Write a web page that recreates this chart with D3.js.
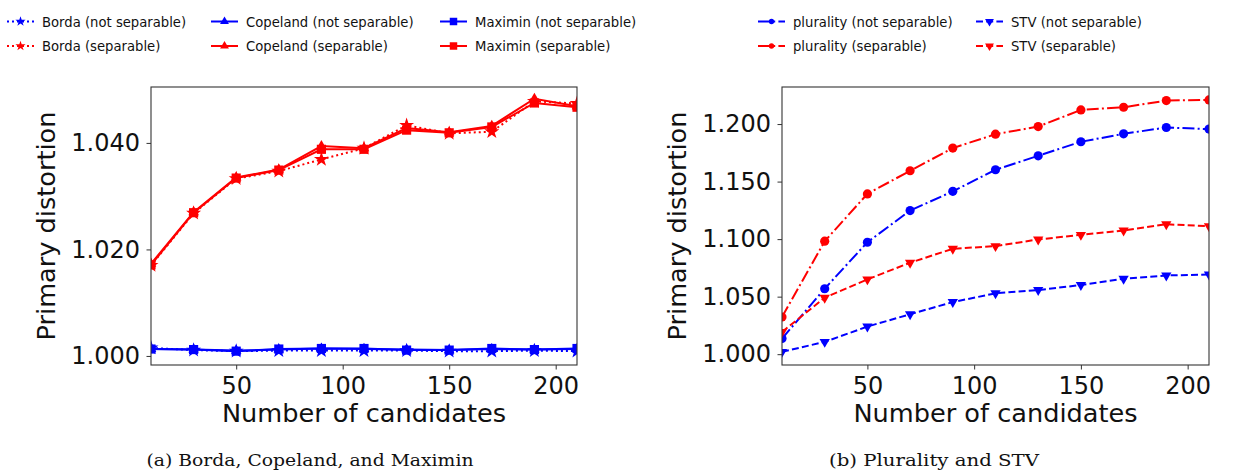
<!DOCTYPE html>
<html>
<head>
<meta charset="utf-8">
<script src="https://cdn.jsdelivr.net/npm/d3@7"></script>
<style>
    body { margin: 0; background: #fff; }
    text { font-family: "DejaVu Sans", sans-serif; fill: #111; }
    .caption { font-family: "DejaVu Serif", serif; }
</style>
</head>
<body>
<script>
//==============================================================================//
//  DATA
//==============================================================================//

    // number of candidates on the x axis
    var candidates = [10, 30, 50, 70, 90, 110, 130, 150, 170, 190, 210];

    // panel (a): Borda, Copeland, Maximin
    var bordaNotSep    = [1.0015, 1.0011, 1.0009, 1.0010, 1.0010, 1.0010, 1.0010, 1.0009, 1.0009, 1.0010, 1.0009];
    var bordaSep       = [1.0170, 1.0268, 1.0333, 1.0347, 1.0369, 1.0390, 1.0433, 1.0418, 1.0421, 1.0478, 1.0474];
    var copelandNotSep = [1.0013, 1.0012, 1.0010, 1.0012, 1.0014, 1.0013, 1.0012, 1.0011, 1.0013, 1.0012, 1.0013];
    var copelandSep    = [1.0173, 1.0270, 1.0335, 1.0350, 1.0394, 1.0390, 1.0428, 1.0420, 1.0432, 1.0483, 1.0469];
    var maximinNotSep  = [1.0013, 1.0012, 1.0009, 1.0013, 1.0014, 1.0014, 1.0011, 1.0011, 1.0014, 1.0012, 1.0014];
    var maximinSep     = [1.0171, 1.0269, 1.0334, 1.0349, 1.0388, 1.0388, 1.0424, 1.0419, 1.0430, 1.0475, 1.0467];

    // panel (b): plurality, STV
    var pluralityNotSep = [1.0136, 1.0569, 1.0973, 1.1248, 1.1415, 1.1603, 1.1724, 1.1846, 1.1915, 1.1970, 1.1956];
    var pluralitySep    = [1.0323, 1.0982, 1.1393, 1.1594, 1.1791, 1.1912, 1.1978, 1.2123, 1.2146, 1.2204, 1.2210];
    var stvNotSep       = [1.0020, 1.0107, 1.0240, 1.0347, 1.0453, 1.0529, 1.0557, 1.0601, 1.0656, 1.0684, 1.0693];
    var stvSep          = [1.0193, 1.0491, 1.0650, 1.0795, 1.0916, 1.0939, 1.0997, 1.1037, 1.1075, 1.1129, 1.1112];

    // tick labels
    var xTicks = [50, 100, 150, 200];
    var yTicksA = [1.000, 1.020, 1.040];
    var yTicksB = [1.000, 1.050, 1.100, 1.150, 1.200];

    // axis ranges
    var xDomain = [10, 210];
    var yDomainA = [0.9983, 1.0505];
    var yDomainB = [0.9906, 1.2322];

//==============================================================================//
//  STYLES
//==============================================================================//

    var dotted = "2,3", dashed = "7,3.2", dashdot = "12,3.2,2,3.2";

    // one entry per rule, legend order (column major)
    var rules = [
        {label: "Borda (not separable)",     values: bordaNotSep,     color: "#0000ff", dash: dotted,  marker: "star"},
        {label: "Borda (separable)",         values: bordaSep,        color: "#ff0000", dash: dotted,  marker: "star"},
        {label: "Copeland (not separable)",  values: copelandNotSep,  color: "#0000ff", dash: null,    marker: "tri"},
        {label: "Copeland (separable)",      values: copelandSep,     color: "#ff0000", dash: null,    marker: "tri"},
        {label: "Maximin (not separable)",   values: maximinNotSep,   color: "#0000ff", dash: null,    marker: "square"},
        {label: "Maximin (separable)",       values: maximinSep,      color: "#ff0000", dash: null,    marker: "square"},
        {label: "plurality (not separable)", values: pluralityNotSep, color: "#0000ff", dash: dashdot, marker: "circle"},
        {label: "plurality (separable)",     values: pluralitySep,    color: "#ff0000", dash: dashdot, marker: "circle"},
        {label: "STV (not separable)",       values: stvNotSep,       color: "#0000ff", dash: dashed,  marker: "tridown"},
        {label: "STV (separable)",           values: stvSep,          color: "#ff0000", dash: dashed,  marker: "tridown"}
    ];

    // marker sizes (area) in the plots and in the legend
    var plotSize = {star: 70, tri: 48, square: 84, circle: 66, tridown: 46};
    var legendSize = {star: 32, tri: 34, square: 56, circle: 22, tridown: 34};

    var svg = d3.select("body").append("svg")
        .attr("width", 1247)
        .attr("height", 470);

//==============================================================================//
//  PANELS
//==============================================================================//

    drawPanel({id: "a", left: 151, right: 577, top: 87, bottom: 365, yDomain: yDomainA,
               yTicks: yTicksA, rules: rules.slice(0, 6), ylabelX: 55,
               caption: "(a) Borda, Copeland, and Maximin", capX: 310, capW: 327});
    drawPanel({id: "b", left: 782, right: 1209, top: 87, bottom: 365, yDomain: yDomainB,
               yTicks: yTicksB, rules: rules.slice(6), ylabelX: 686,
               caption: "(b) Plurality and STV", capX: 934, capW: 210});

//==============================================================================//
//  LEGEND
//==============================================================================//

    var colX = [7, 211, 440, 758, 976];
    var rowY = [21.5, 46];

    rules.forEach(function(r, i) {
        var cx = colX[Math.floor(i / 2)], cy = rowY[i % 2];
        var g = svg.append("g");
        g.append("line")
            .attr("x1", cx).attr("x2", cx + 27)
            .attr("y1", cy).attr("y2", cy)
            .attr("stroke", r.color)
            .attr("stroke-width", 2)
            .attr("stroke-dasharray", r.dash);
        g.append("path")
            .attr("d", symbolPath(r.marker, legendSize[r.marker]))
            .attr("transform", "translate(" + (cx + 13.5) + "," + cy + ")" + (r.marker == "tridown" ? " rotate(180)" : ""))
            .attr("fill", r.color);
        g.append("text")
            .attr("x", cx + 35)
            .attr("y", cy + 5)
            .style("font-size", "13.2px")
            .text(r.label);
    });

//==============================================================================//
//  FUNCTIONS
//==============================================================================//

    function symbolPath(type, size) {
        var t = {star: d3.symbolStar, tri: d3.symbolTriangle, square: d3.symbolSquare,
                 circle: d3.symbolCircle, tridown: d3.symbolTriangle}[type];
        return d3.symbol().type(t).size(size)();
    }

    function drawPanel(p) {
        var x = d3.scaleLinear().domain(xDomain).range([p.left, p.right]);
        var y = d3.scaleLinear().domain(p.yDomain).range([p.bottom, p.top]);

        svg.append("clipPath").attr("id", "clip" + p.id)
            .append("rect")
            .attr("x", p.left).attr("y", p.top)
            .attr("width", p.right - p.left).attr("height", p.bottom - p.top);

        var plot = svg.append("g").attr("clip-path", "url(#clip" + p.id + ")");

        var line = d3.line()
            .x(function(d, i) { return x(candidates[i]); })
            .y(function(d) { return y(d); });

        p.rules.forEach(function(r) {
            plot.append("path")
                .attr("d", line(r.values))
                .attr("fill", "none")
                .attr("stroke", r.color)
                .attr("stroke-width", 2)
                .attr("stroke-dasharray", r.dash);
            plot.selectAll(null)
                .data(r.values)
                .join("path")
                    .attr("d", symbolPath(r.marker, plotSize[r.marker]))
                    .attr("transform", function(d, i) {
                        return "translate(" + x(candidates[i]) + "," + y(d) + ")" + (r.marker == "tridown" ? " rotate(180)" : "");
                    })
                    .attr("fill", r.color);
        });

        // x axis
        var gx = svg.append("g")
            .attr("transform", "translate(0," + p.bottom + ")")
            .call(d3.axisBottom(x).tickValues(xTicks).tickSize(4.5).tickPadding(7));
        // y axis
        var gy = svg.append("g")
            .attr("transform", "translate(" + p.left + ",0)")
            .call(d3.axisLeft(y).tickValues(p.yTicks).tickSize(4.5).tickPadding(6.5).tickFormat(d3.format(".3f")));

        [gx, gy].forEach(function(g) {
            g.select(".domain").remove();
            g.selectAll(".tick line").attr("stroke", "#333").attr("stroke-width", 1);
            g.selectAll(".tick text")
                .style("font-family", "DejaVu Sans")
                .style("font-size", "24px")
                .attr("fill", "#111");
        });

        // frame
        svg.append("rect")
            .attr("x", p.left).attr("y", p.top)
            .attr("width", p.right - p.left).attr("height", p.bottom - p.top)
            .attr("fill", "none")
            .attr("stroke", "#333")
            .attr("stroke-width", 1.1);

        // axis labels
        svg.append("text")
            .attr("x", (p.left + p.right) / 2)
            .attr("y", 421.5)
            .attr("text-anchor", "middle")
            .style("font-size", "25.6px")
            .text("Number of candidates");
        svg.append("text")
            .attr("transform", "translate(" + p.ylabelX + "," + ((p.top + p.bottom) / 2) + ") rotate(-90)")
            .attr("text-anchor", "middle")
            .style("font-size", "25.6px")
            .text("Primary distortion");

        // caption
        svg.append("text")
            .attr("class", "caption")
            .attr("x", p.capX - p.capW / 2)
            .attr("y", 466)
            .attr("textLength", p.capW)
            .attr("lengthAdjust", "spacingAndGlyphs")
            .style("font-size", "17px")
            .text(p.caption);
    }
</script>
</body>
</html>
